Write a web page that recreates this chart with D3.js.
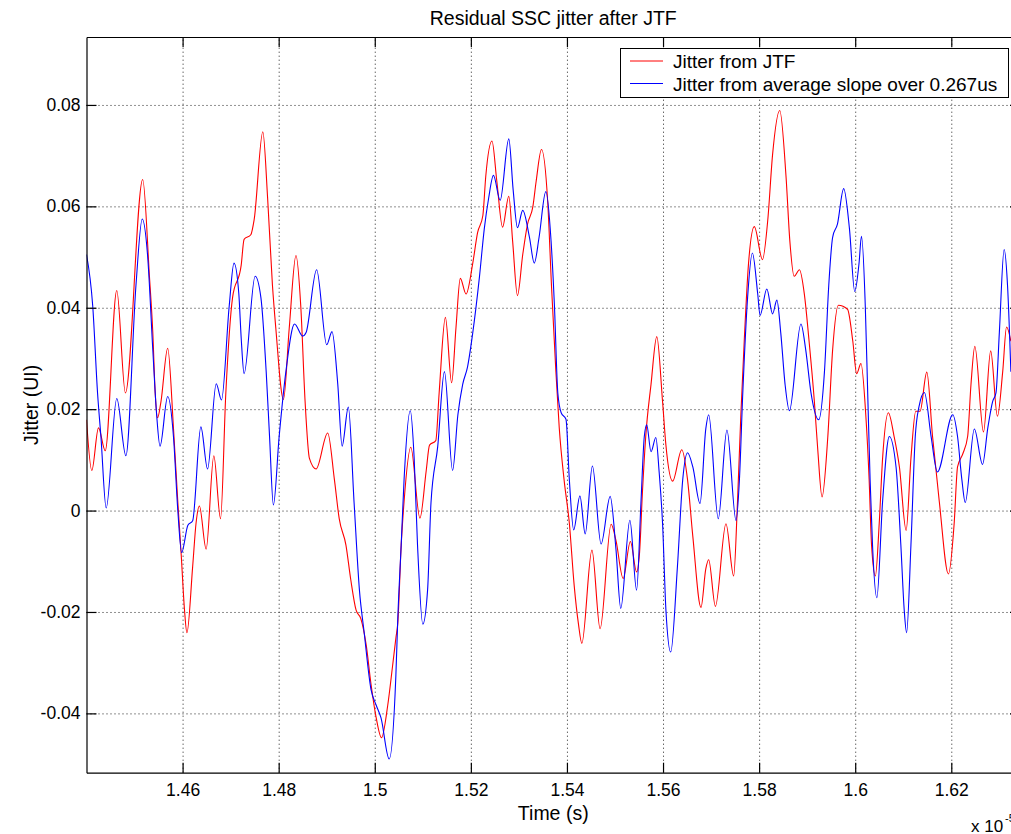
<!DOCTYPE html>
<html><head><meta charset="utf-8">
<script src="https://cdn.jsdelivr.net/npm/d3@7"></script>
<style>
body{margin:0;background:#fff;}
svg{display:block;}
text{font-family:"Liberation Sans",Arial,Helvetica,sans-serif;fill:#000;}
</style></head>
<body><svg id="c" width="1011" height="834"></svg>
<script>
const title = "Residual SSC jitter after JTF";
const xLabel = "Time (s)";
const yLabel = "Jitter (UI)";
const xExponent = "x 10";
const xExponentPow = "-5";
const seriesNames = ["Jitter from JTF", "Jitter from average slope over 0.267us"];
const xTicks = [1.46, 1.48, 1.50, 1.52, 1.54, 1.56, 1.58, 1.60, 1.62];
const yTicks = [-0.04, -0.02, 0, 0.02, 0.04, 0.06, 0.08];
const xDomain = [1.44, 1.6343];
const yDomain = [-0.0517, 0.0934];

const redT = [1.4400,1.4411,1.4425,1.4439,1.4463,1.4481,1.4517,1.4531,1.4538,1.4543,1.4548,1.4555,1.4569,1.4581,1.4590,1.4597,1.4604,1.4609,1.4621,1.4628,1.4635,1.4649,1.4665,1.4679,1.4690,1.4704,1.4722,1.4728,1.4742,1.4749,1.4767,1.4777,1.4787,1.4794,1.4810,1.4822,1.4836,1.4846,1.4855,1.4864,1.4878,1.4902,1.4916,1.4926,1.4940,1.4950,1.4961,1.4971,1.4982,1.4992,1.5003,1.5014,1.5027,1.5037,1.5044,1.5048,1.5055,1.5061,1.5075,1.5094,1.5107,1.5114,1.5127,1.5134,1.5147,1.5160,1.5169,1.5178,1.5190,1.5204,1.5214,1.5225,1.5231,1.5244,1.5254,1.5266,1.5279,1.5287,1.5297,1.5308,1.5318,1.5329,1.5336,1.5347,1.5360,1.5368,1.5377,1.5384,1.5394,1.5405,1.5415,1.5424,1.5431,1.5452,1.5469,1.5492,1.5502,1.5517,1.5532,1.5545,1.5551,1.5557,1.5564,1.5575,1.5587,1.5599,1.5606,1.5620,1.5639,1.5651,1.5662,1.5679,1.5689,1.5695,1.5709,1.5731,1.5747,1.5755,1.5762,1.5769,1.5778,1.5790,1.5807,1.5818,1.5828,1.5843,1.5856,1.5864,1.5873,1.5884,1.5894,1.5904,1.5915,1.5922,1.5931,1.5943,1.5953,1.5965,1.5984,1.5995,1.6003,1.6012,1.6022,1.6029,1.6034,1.6042,1.6050,1.6057,1.6069,1.6081,1.6092,1.6106,1.6116,1.6126,1.6135,1.6149,1.6161,1.6175,1.6194,1.6206,1.6213,1.6224,1.6234,1.6241,1.6249,1.6267,1.6282,1.6296,1.6307,1.6315,1.6324];
const redV = [0.0179,0.0079,0.0163,0.0118,0.0434,0.0232,0.0653,0.0462,0.0351,0.0232,0.0183,0.0215,0.0320,0.0163,0.0018,-0.0085,-0.0196,-0.0241,-0.0110,-0.0025,0.0009,-0.0076,0.0108,-0.0016,0.0232,0.0420,0.0484,0.0535,0.0544,0.0574,0.0747,0.0616,0.0445,0.0360,0.0219,0.0360,0.0503,0.0403,0.0215,0.0103,0.0082,0.0153,0.0061,-0.0016,-0.0068,-0.0136,-0.0196,-0.0213,-0.0264,-0.0341,-0.0409,-0.0448,-0.0384,-0.0307,-0.0251,-0.0221,-0.0068,0.0018,0.0125,-0.0015,0.0078,0.0129,0.0138,0.0232,0.0381,0.0252,0.0360,0.0458,0.0427,0.0488,0.0548,0.0582,0.0659,0.0729,0.0650,0.0559,0.0620,0.0531,0.0424,0.0505,0.0565,0.0599,0.0650,0.0712,0.0608,0.0440,0.0274,0.0163,0.0061,-0.0025,-0.0147,-0.0224,-0.0262,-0.0078,-0.0233,-0.0027,-0.0059,-0.0134,-0.0061,-0.0121,-0.0085,0.0034,0.0146,0.0249,0.0343,0.0215,0.0129,0.0058,0.0120,0.0061,-0.0051,-0.0191,-0.0115,-0.0097,-0.0189,-0.0026,-0.0129,0.0018,0.0189,0.0334,0.0488,0.0560,0.0495,0.0573,0.0702,0.0789,0.0659,0.0531,0.0462,0.0475,0.0428,0.0334,0.0215,0.0121,0.0027,0.0146,0.0317,0.0405,0.0397,0.0334,0.0270,0.0290,0.0189,0.0061,-0.0068,-0.0129,-0.0025,0.0103,0.0193,0.0146,0.0086,-0.0039,0.0103,0.0196,0.0196,0.0273,0.0146,0.0018,-0.0125,-0.0025,0.0086,0.0112,0.0146,0.0249,0.0324,0.0155,0.0315,0.0186,0.0274,0.0362,0.0334];

const blueT = [1.4400,1.4413,1.4423,1.4430,1.4441,1.4463,1.4482,1.4503,1.4516,1.4527,1.4538,1.4546,1.4553,1.4569,1.4581,1.4590,1.4598,1.4611,1.4621,1.4638,1.4652,1.4670,1.4681,1.4697,1.4707,1.4717,1.4722,1.4728,1.4751,1.4763,1.4774,1.4781,1.4789,1.4801,1.4815,1.4833,1.4850,1.4857,1.4879,1.4900,1.4911,1.4923,1.4932,1.4945,1.4957,1.4968,1.4978,1.4992,1.5003,1.5013,1.5030,1.5044,1.5048,1.5055,1.5061,1.5074,1.5082,1.5089,1.5100,1.5110,1.5117,1.5131,1.5145,1.5162,1.5173,1.5183,1.5193,1.5204,1.5218,1.5228,1.5237,1.5247,1.5261,1.5279,1.5288,1.5297,1.5308,1.5322,1.5332,1.5342,1.5356,1.5367,1.5374,1.5381,1.5388,1.5398,1.5405,1.5414,1.5427,1.5438,1.5453,1.5471,1.5490,1.5502,1.5512,1.5531,1.5545,1.5554,1.5561,1.5566,1.5575,1.5585,1.5592,1.5599,1.5606,1.5616,1.5630,1.5641,1.5651,1.5662,1.5677,1.5689,1.5695,1.5715,1.5733,1.5752,1.5759,1.5766,1.5776,1.5786,1.5797,1.5802,1.5816,1.5828,1.5837,1.5845,1.5854,1.5863,1.5887,1.5897,1.5908,1.5924,1.5936,1.5945,1.5953,1.5963,1.5976,1.5988,1.5999,1.6008,1.6013,1.6021,1.6026,1.6031,1.6036,1.6045,1.6057,1.6071,1.6085,1.6095,1.6102,1.6107,1.6116,1.6125,1.6133,1.6144,1.6158,1.6171,1.6203,1.6213,1.6222,1.6229,1.6248,1.6265,1.6276,1.6286,1.6293,1.6300,1.6310,1.6317,1.6324];
const blueV = [0.0505,0.0403,0.0232,0.0146,0.0005,0.0221,0.0108,0.0445,0.0575,0.0505,0.0317,0.0189,0.0127,0.0225,0.0146,0.0001,-0.0083,-0.0029,-0.0020,0.0165,0.0082,0.0250,0.0218,0.0403,0.0488,0.0428,0.0340,0.0270,0.0462,0.0420,0.0274,0.0146,0.0011,0.0146,0.0274,0.0368,0.0344,0.0351,0.0475,0.0327,0.0353,0.0249,0.0127,0.0204,0.0015,-0.0156,-0.0241,-0.0352,-0.0384,-0.0409,-0.0490,-0.0324,-0.0211,-0.0068,0.0061,0.0197,0.0103,-0.0068,-0.0224,-0.0156,0.0015,0.0126,0.0274,0.0079,0.0189,0.0249,0.0283,0.0351,0.0462,0.0556,0.0616,0.0661,0.0612,0.0733,0.0633,0.0558,0.0592,0.0539,0.0488,0.0539,0.0629,0.0531,0.0403,0.0232,0.0193,0.0180,0.0061,-0.0038,0.0029,-0.0046,0.0088,-0.0066,0.0028,-0.0076,-0.0193,-0.0019,-0.0157,0.0015,0.0146,0.0169,0.0116,0.0144,0.0075,-0.0025,-0.0196,-0.0279,-0.0110,0.0061,0.0114,0.0086,0.0014,0.0161,0.0189,-0.0016,0.0159,-0.0020,0.0061,0.0232,0.0420,0.0508,0.0428,0.0385,0.0437,0.0388,0.0415,0.0351,0.0249,0.0197,0.0368,0.0317,0.0232,0.0179,0.0274,0.0445,0.0539,0.0565,0.0635,0.0556,0.0432,0.0488,0.0541,0.0403,0.0232,0.0061,-0.0068,-0.0172,0.0018,0.0146,0.0086,-0.0068,-0.0196,-0.0241,-0.0068,0.0146,0.0206,0.0233,0.0146,0.0076,0.0189,0.0146,0.0061,0.0016,0.0161,0.0091,0.0163,0.0215,0.0232,0.0351,0.0515,0.0445,0.0274];

const colors = ["#ff0000", "#0000ff"];

const L = 86.5, R = 1020, T = 37, B = 772.7;
const svg = d3.select("#c");
const x = d3.scaleLinear().domain(xDomain).range([L, R]);
const y = d3.scaleLinear().domain(yDomain).range([B, T]);
const fmt = d => String(+d.toFixed(2));
const FS = "17.5px";
const FL = "19.5px";

svg.append("defs").append("clipPath").attr("id","clip")
  .append("rect").attr("x",L).attr("y",T).attr("width",R-L).attr("height",B-T);

// grid
const gx = svg.append("g").attr("transform",`translate(0,${B})`)
  .call(d3.axisBottom(x).tickValues(xTicks).tickSize(-(B-T)).tickFormat(""));
const gy = svg.append("g").attr("transform",`translate(${L},0)`)
  .call(d3.axisLeft(y).tickValues(yTicks).tickSize(-(R-L)).tickFormat(""));
[gx,gy].forEach(g=>{
  g.select(".domain").remove();
  g.selectAll(".tick line").attr("stroke","#222").attr("stroke-dasharray","1,3").attr("stroke-width",1);
});

// lines
const line = d3.line().x(d=>x(d[0])).y(d=>y(d[1])).curve(d3.curveMonotoneX);
const series = [d3.zip(redT, redV), d3.zip(blueT, blueV)];
const lg = svg.append("g").attr("clip-path","url(#clip)");
series.forEach((s,i)=>{
  lg.append("path").datum(s).attr("d",line).attr("fill","none")
    .attr("stroke",colors[i]).attr("stroke-width",1.1);
});

// axes
const styleAxis = g => {
  g.select(".domain").attr("stroke","#000").attr("stroke-width",1.2);
  g.selectAll(".tick line").attr("stroke","#000").attr("stroke-width",1.2);
  g.selectAll("text").style("font-size",FS).style("font-family",'"Liberation Sans",Arial,sans-serif').attr("fill","#000");
};
svg.append("g").attr("transform",`translate(0,${B})`)
  .call(d3.axisBottom(x).tickValues(xTicks).tickSize(-10).tickSizeOuter(0).tickPadding(11).tickFormat(fmt)).call(styleAxis);
svg.append("g").attr("transform",`translate(0,${T})`)
  .call(d3.axisTop(x).tickValues(xTicks).tickSize(-10).tickSizeOuter(0).tickFormat("")).call(styleAxis);
svg.append("g").attr("transform",`translate(${L},0)`)
  .call(d3.axisLeft(y).tickValues(yTicks).tickSize(-10).tickSizeOuter(0).tickPadding(6).tickFormat(fmt)).call(styleAxis);
svg.append("g").attr("transform",`translate(${R},0)`)
  .call(d3.axisRight(y).tickValues(yTicks).tickSize(-10).tickSizeOuter(0).tickFormat("")).call(styleAxis);

// title & labels
svg.append("text").attr("x",(L+R)/2).attr("y",25).attr("text-anchor","middle")
  .style("font-size",FL).text(title);
svg.append("text").attr("x",(L+R)/2).attr("y",820).attr("text-anchor","middle")
  .style("font-size",FL).text(xLabel);
svg.append("text").attr("transform",`translate(38,${(T+B)/2}) rotate(-90)`).attr("text-anchor","middle")
  .style("font-size",FL).text(yLabel);
svg.append("text").attr("x",971).attr("y",832).style("font-size","17px").text(xExponent);
svg.append("text").attr("x",1005).attr("y",822).style("font-size","11px").text(xExponentPow);

// legend
const leg = svg.append("g");
leg.append("rect").attr("x",620.5).attr("y",48.5).attr("width",388).attr("height",49)
  .attr("fill","#fff").attr("stroke","#000").attr("stroke-width",1);
seriesNames.forEach((n,i)=>{
  const yy = 61 + i*22.5;
  leg.append("line").attr("x1",630).attr("x2",663).attr("y1",yy).attr("y2",yy)
    .attr("stroke",colors[i]).attr("stroke-width",1);
  leg.append("text").attr("x",673).attr("y",yy+7).style("font-size","19px").text(n);
});
</script></body></html>
